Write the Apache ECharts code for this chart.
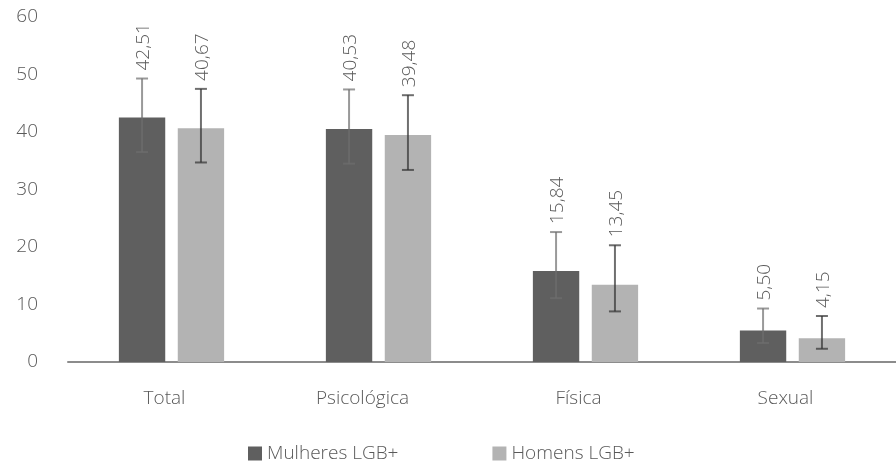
<!DOCTYPE html>
<html>
<head>
<meta charset="utf-8">
<script src="https://cdn.jsdelivr.net/npm/echarts@6/dist/echarts.min.js"></script>
<style>html,body{margin:0;padding:0;background:#fff}#c{width:896px;height:466px}</style>
</head>
<body>
<div id="c"></div>
<script>
var categories = ['Total', 'Psicológica', 'Física', 'Sexual'];
var seriesNames = ['Mulheres LGB+', 'Homens LGB+'];
var mulheres = [42.51, 40.53, 15.84, 5.50];
var homens = [40.67, 39.48, 13.45, 4.15];
var mulheresLow = [36.5, 34.5, 11.1, 3.3];
var mulheresHigh = [49.3, 47.4, 22.6, 9.3];
var homensLow = [34.7, 33.4, 8.8, 2.3];
var homensHigh = [47.5, 46.4, 20.3, 8.0];
var yTicks = {min: 0, max: 60, interval: 10};

var FONT = '"Open Sans", "Noto Sans", sans-serif';
var TXT = '#595959';
var BAR_W = 0.224, GAP = 0.27;
var OFF = BAR_W / 2 + BAR_W * GAP / 2;

function fmt(v) { return v.toFixed(2).replace('.', ','); }

function errRender(values, lows, highs, sign, color) {
  return function (params, api) {
    var i = api.value(0);
    var band = api.size([1, 0])[0];
    var dx = sign * OFF * band;
    var top = api.coord([i, highs[i]]);
    var bot = api.coord([i, lows[i]]);
    var x = top[0] + dx;
    var cap = 6;
    var ls = {stroke: color, lineWidth: 2};
    return {
      type: 'group',
      children: [
        {type: 'line', shape: {x1: x, y1: top[1], x2: x, y2: bot[1]}, style: ls},
        {type: 'line', shape: {x1: x - cap, y1: top[1], x2: x + cap, y2: top[1]}, style: ls},
        {type: 'line', shape: {x1: x - cap, y1: bot[1], x2: x + cap, y2: bot[1]}, style: ls},
        {type: 'text', x: x + 2, y: top[1] - 8, rotation: Math.PI / 2,
         style: {text: fmt(values[i]), x: 0, y: 0, align: 'left', verticalAlign: 'middle',
                 fill: TXT, font: '300 19px ' + FONT}}
      ]
    };
  };
}

var chart = echarts.init(document.getElementById('c'), null, {renderer: 'canvas'});
chart.setOption({
  animation: false,
  textStyle: {fontFamily: FONT},
  grid: {left: 68, right: 0, top: 17, bottom: 104, containLabel: false},
  legend: {
    data: seriesNames, left: 243, top: 439, itemWidth: 14, itemHeight: 14, itemGap: 94,
    icon: 'rect', textStyle: {fontSize: 19, color: TXT, fontWeight: 300, fontFamily: FONT}
  },
  xAxis: {
    type: 'category', data: categories,
    axisLine: {lineStyle: {color: '#8c8c8c', width: 2}},
    axisTick: {show: false},
    axisLabel: {
      fontSize: 19, color: TXT, fontWeight: 300, margin: 27,
      formatter: function (v) { return v === 'Psicológica' ? '{p|' + v + '}' : '{n|' + v + '}'; },
      rich: {
        n: {fontSize: 19, color: TXT, fontWeight: 300, fontFamily: FONT, padding: [0, 14, 0, 0]},
        p: {fontSize: 19, color: TXT, fontWeight: 300, fontFamily: FONT, padding: [0, 32, 0, 0]}
      }
    }
  },
  yAxis: {
    type: 'value', min: yTicks.min, max: yTicks.max, interval: yTicks.interval,
    splitLine: {show: false}, axisLine: {show: false}, axisTick: {show: false},
    axisLabel: {fontSize: 19, color: TXT, fontWeight: 300, margin: 30}
  },
  series: [
    {name: seriesNames[0], type: 'bar', data: mulheres, barWidth: (BAR_W * 100) + '%', barGap: (GAP * 100) + '%',
     itemStyle: {color: '#5f5f5f'}},
    {name: seriesNames[1], type: 'bar', data: homens, barWidth: (BAR_W * 100) + '%',
     itemStyle: {color: '#b3b3b3'}},
    {type: 'custom', data: categories.map(function (c, i) { return [i]; }), z: 5,
     renderItem: errRender(mulheres, mulheresLow, mulheresHigh, -1, 'rgba(110,110,110,0.7)')},
    {type: 'custom', data: categories.map(function (c, i) { return [i]; }), z: 5,
     renderItem: errRender(homens, homensLow, homensHigh, 1, 'rgba(50,50,50,0.7)')}
  ]
});
</script>
</body>
</html>
